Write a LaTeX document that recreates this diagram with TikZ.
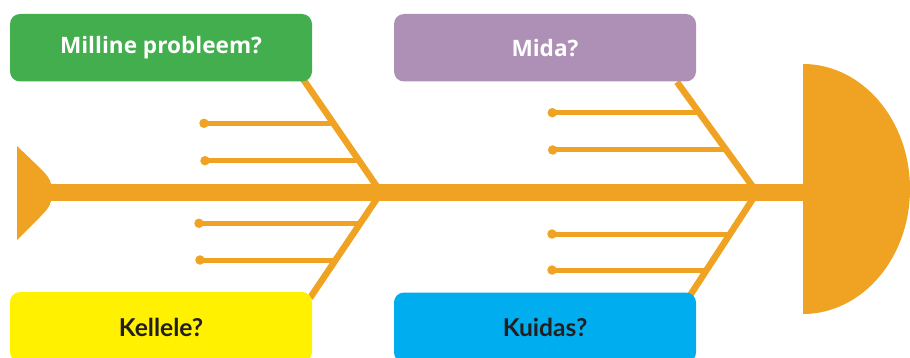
\documentclass[tikz,border=0pt]{standalone}
\usepackage{fontspec}
\setmainfont{Open Sans}
\newfontfamily\latofont{Lato}
\definecolor{fishorange}{HTML}{F0A323}
\definecolor{boxgreen}{HTML}{42AE4E}
\definecolor{boxpurple}{HTML}{AE90B7}
\definecolor{boxyellow}{HTML}{FFF100}
\definecolor{boxcyan}{HTML}{00AEEF}
\definecolor{darktext}{HTML}{231F20}
\begin{document}
\begin{tikzpicture}[x=1pt,y=-1pt,
  qbox/.style={rounded corners=10pt, minimum width=302pt, inner sep=0pt},
  topbox/.style={qbox, minimum height=67.5pt, text=white, font=\fontsize{22.6}{25}\selectfont\bfseries},
  botbox/.style={qbox, minimum height=70pt, text=darktext, font=\latofont\fontsize{24.6}{27}\selectfont\bfseries},
  bone/.style={draw=fishorange, line width=6.5pt},
  rib/.style={draw=fishorange, line width=5pt},
  ribdot/.style={circle, fill=fishorange, inner sep=0pt, minimum size=9.5pt},
  spine/.style={draw=fishorange, line width=17pt}]
\useasboundingbox (0,0) rectangle (910,358);
\clip (0,0) rectangle (910,358);

% joints and ends
\coordinate (tail) at (50,192.5);
\coordinate (head) at (803,192.5);
\coordinate (J1) at (381,192.5);
\coordinate (J2) at (757,192.5);

% tail fin
\fill[fishorange] (17,146) -- (40,168) .. controls (47,175) and (50,179) .. (51,184)
  -- (56,184) -- (56,201) -- (51,201) .. controls (50,206) and (47,210) .. (40,217)
  -- (17,240) -- cycle;

% head
\begin{scope}
\clip (803,0) rectangle (910,358);
\fill[fishorange] (803,189) ellipse [x radius=107pt, y radius=125pt];
\end{scope}

% spine
\draw[spine] (tail) -- (head);

% main bones
\draw[bone] (303,79) -- (J1);
\draw[bone] (310,298) -- (J1);
\draw[bone] (677,82) -- (J2);
\draw[bone] (689,297) -- (J2);

% ribs left
\node[ribdot] (d1) at (204,123.3) {};
\node[ribdot] (d2) at (205,160.7) {};
\node[ribdot] (d3) at (199,223.3) {};
\node[ribdot] (d4) at (200,260) {};
\coordinate (e1) at (333.4,123.3);
\coordinate (e2) at (359.1,160.7);
\coordinate (e3) at (360.5,223.3);
\coordinate (e4) at (335.6,260);
\draw[rib] (d1.center) -- (e1);
\draw[rib] (d2.center) -- (e2);
\draw[rib] (d3.center) -- (e3);
\draw[rib] (d4.center) -- (e4);

% ribs right
\node[ribdot] (d5) at (552.3,112.7) {};
\node[ribdot] (d6) at (552.7,150) {};
\node[ribdot] (d7) at (552,234) {};
\node[ribdot] (d8) at (552,270) {};
\coordinate (e5) at (699.2,112.7);
\coordinate (e6) at (726.2,150);
\coordinate (e7) at (730,234);
\coordinate (e8) at (706.6,270);
\draw[rib] (d5.center) -- (e5);
\draw[rib] (d6.center) -- (e6);
\draw[rib] (d7.center) -- (e7);
\draw[rib] (d8.center) -- (e8);

% boxes
\node[topbox, fill=boxgreen] (problem) at (161,47.75) {Milline probleem?};
\node[topbox, fill=boxpurple] (mida) at (545,47.75) {Mida?};
\node[botbox, fill=boxyellow] (kellele) at (161,327) {Kellele?};
\node[botbox, fill=boxcyan] (kuidas) at (545,327.5) {Kuidas?};
\end{tikzpicture}
\end{document}
